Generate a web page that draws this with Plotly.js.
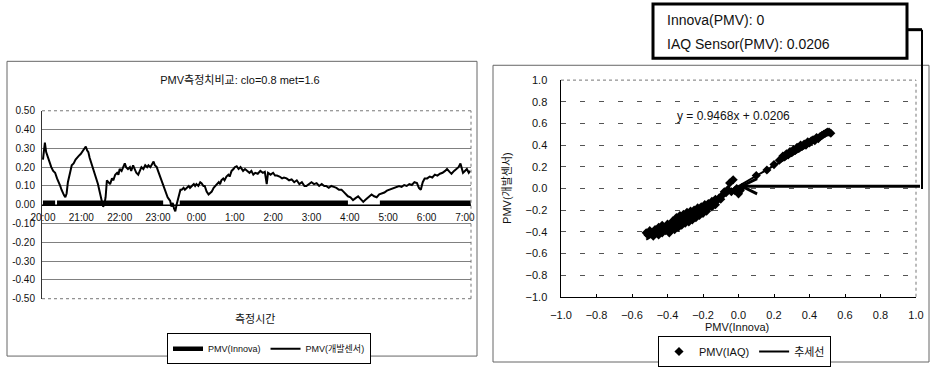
<!DOCTYPE html>
<html>
<head>
<meta charset="utf-8">
<script src="https://cdn.plot.ly/plotly-3.0.1.min.js"></script>
<style>
  html, body { margin: 0; padding: 0; background: #fff; }
  #chart { width: 933px; height: 367px; }
</style>
</head>
<body>
<div id="chart"></div>
<script>
// ---- Left panel: PMV readings over the night (minutes after 20:00) ----
const innovaMin = [0, 19, 20, 22, 188, 200, 214, 477, 500, 527, 669];
const innovaPmv = [0.01, 0.01, null, 0.01, 0.01, null, 0.01, 0.01, null, 0.01, 0.01];

const sensorMin = [
  0, 2, 3, 5, 8, 10, 13, 16, 19, 22, 25, 27, 29, 31, 33, 35, 37, 39, 41, 43,
  45, 48, 51, 53, 56, 59, 61, 64, 66, 67, 69, 71, 73, 76, 78, 81, 83, 86, 88, 90,
  92, 94, 96, 98, 100, 102, 105, 108, 110, 113, 116, 118, 120, 123, 125, 128, 130, 133, 136, 138,
  141, 143, 146, 149, 151, 154, 157, 160, 163, 165, 168, 171, 173, 175, 178, 180, 183, 185, 188, 190,
  193, 195, 197, 199, 201, 203, 205, 207, 209, 211, 213, 215, 217, 220, 222, 225, 228, 230, 233, 236,
  238, 240, 243, 246, 248, 251, 253, 256, 259, 262, 264, 267, 270, 272, 275, 277, 279, 282, 284, 287,
  290, 292, 295, 298, 300, 303, 306, 309, 313, 316, 320, 323, 326, 329, 332, 336, 340, 344, 347, 350,
  352, 356, 360, 363, 366, 370, 374, 377, 381, 385, 389, 393, 397, 401, 405, 409, 412, 416, 420, 424,
  428, 432, 436, 440, 443, 447, 451, 455, 459, 463, 467, 470, 473, 477, 481, 485, 489, 493, 497, 501,
  504, 507, 510, 514, 518, 522, 526, 530, 534, 538, 542, 546, 550, 553, 557, 561, 565, 569, 573, 577,
  581, 585, 588, 591, 594, 597, 601, 605, 609, 613, 617, 621, 625, 629, 632, 636, 639, 643, 647, 650,
  653, 655, 657, 660, 663, 666, 668
];
const sensorPmv = [
  0.24, 0.30, 0.33, 0.28, 0.25, 0.22, 0.20, 0.18, 0.17, 0.14, 0.12, 0.10, 0.08, 0.06, 0.05, 0.04, 0.06, 0.12, 0.16, 0.18,
  0.21, 0.22, 0.24, 0.25, 0.26, 0.27, 0.28, 0.29, 0.30, 0.31, 0.29, 0.28, 0.25, 0.22, 0.19, 0.16, 0.14, 0.11, 0.08, 0.05,
  0.02, -0.01, 0.00, 0.04, 0.13, 0.12, 0.11, 0.14, 0.13, 0.16, 0.17, 0.16, 0.19, 0.18, 0.20, 0.22, 0.20, 0.19, 0.20, 0.18,
  0.21, 0.19, 0.17, 0.16, 0.18, 0.20, 0.19, 0.21, 0.20, 0.21, 0.20, 0.22, 0.23, 0.21, 0.20, 0.18, 0.15, 0.13, 0.11, 0.08,
  0.06, 0.04, 0.03, 0.02, -0.01, 0.01, -0.02, -0.035, 0.00, 0.03, 0.06, 0.08, 0.08, 0.09, 0.08, 0.09, 0.10, 0.09, 0.10, 0.11,
  0.10, 0.11, 0.10, 0.12, 0.115, 0.10, 0.10, 0.07, 0.055, 0.065, 0.07, 0.09, 0.10, 0.11, 0.12, 0.11, 0.13, 0.14, 0.13, 0.15,
  0.16, 0.15, 0.18, 0.19, 0.20, 0.205, 0.19, 0.20, 0.18, 0.19, 0.18, 0.17, 0.18, 0.16, 0.17, 0.165, 0.18, 0.17, 0.175, 0.11,
  0.17, 0.16, 0.17, 0.155, 0.155, 0.15, 0.14, 0.145, 0.14, 0.13, 0.135, 0.12, 0.13, 0.11, 0.12, 0.10, 0.10, 0.11, 0.12, 0.11,
  0.115, 0.10, 0.11, 0.10, 0.10, 0.09, 0.10, 0.095, 0.09, 0.08, 0.08, 0.07, 0.06, 0.045, 0.04, 0.025, 0.035, 0.045, 0.03, 0.015,
  0.025, 0.035, 0.045, 0.055, 0.045, 0.04, 0.055, 0.06, 0.065, 0.075, 0.08, 0.085, 0.09, 0.095, 0.10, 0.095, 0.105, 0.10, 0.11, 0.105,
  0.12, 0.115, 0.09, 0.08, 0.12, 0.14, 0.14, 0.15, 0.145, 0.16, 0.155, 0.165, 0.17, 0.18, 0.19, 0.175, 0.165, 0.18, 0.19, 0.20,
  0.22, 0.19, 0.17, 0.18, 0.19, 0.17, 0.18
];

const hourTickMin = [0, 60, 120, 180, 240, 300, 360, 420, 480, 540, 600, 660];
const hourTickText = ['20:00', '21:00', '22:00', '23:00', '0:00', '1:00', '2:00', '3:00', '4:00', '5:00', '6:00', '7:00'];
const leftYTicks = [0.5, 0.4, 0.3, 0.2, 0.1, 0, -0.1, -0.2, -0.3, -0.4, -0.5];

// ---- Right panel: IAQ sensor PMV against Innova PMV ----
const iaqX = [
  -0.52, -0.51, -0.50, -0.49, -0.48, -0.47, -0.46, -0.45, -0.45, -0.44, -0.43, -0.43, -0.42, -0.41, -0.40, -0.40, -0.39, -0.38, -0.38, -0.37,
  -0.37, -0.36, -0.36, -0.35, -0.35, -0.34, -0.34, -0.33, -0.33, -0.32, -0.32, -0.31, -0.31, -0.30, -0.30, -0.29, -0.29, -0.28, -0.28, -0.27,
  -0.27, -0.26, -0.26, -0.25, -0.25, -0.24, -0.24, -0.23, -0.23, -0.22, -0.22, -0.21, -0.21, -0.20, -0.20, -0.19, -0.19, -0.18, -0.18, -0.17,
  -0.17, -0.16, -0.15, -0.15, -0.14, -0.13, -0.13, -0.12, -0.11, -0.10,
  -0.09, -0.08, -0.07, -0.06, -0.05, -0.04, -0.03, -0.02, -0.01, 0.00, 0.01, 0.02,
  0.10, 0.16, 0.20, 0.23, 0.25, 0.26, 0.27, 0.28, 0.29, 0.30, 0.31, 0.32, 0.33, 0.34, 0.35, 0.36, 0.37,
  0.38, 0.39, 0.40, 0.41, 0.42, 0.43, 0.44, 0.45, 0.46, 0.47, 0.48, 0.49, 0.50, 0.51, 0.52
];
const iaqY = [
  -0.41, -0.43, -0.39, -0.42, -0.44, -0.38, -0.41, -0.36, -0.43, -0.39, -0.34, -0.41, -0.37, -0.39, -0.33, -0.37, -0.41, -0.34, -0.38, -0.30,
  -0.34, -0.30, -0.38, -0.27, -0.33, -0.30, -0.36, -0.25, -0.31, -0.28, -0.34, -0.24, -0.30, -0.27, -0.32, -0.22, -0.28, -0.25, -0.31, -0.21,
  -0.27, -0.23, -0.29, -0.20, -0.26, -0.22, -0.27, -0.18, -0.24, -0.20, -0.25, -0.17, -0.22, -0.19, -0.23, -0.15, -0.20, -0.17, -0.21, -0.14,
  -0.18, -0.15, -0.12, -0.17, -0.13, -0.10, -0.15, -0.11, -0.09, -0.10,
  -0.06, -0.03, -0.04, -0.01, 0.05, -0.03, 0.08, -0.02, 0.00, -0.05, -0.02, 0.01,
  0.12, 0.17, 0.22, 0.26, 0.30, 0.29, 0.32, 0.31, 0.34, 0.33, 0.36, 0.35, 0.38, 0.37, 0.40, 0.39, 0.41,
  0.40, 0.43, 0.42, 0.44, 0.45, 0.44, 0.47, 0.46, 0.48, 0.49, 0.50, 0.51, 0.52, 0.52, 0.51
];
const trendSlope = 0.9468;
const trendIntercept = 0.0206;
const innovaAtArrow = 0;

// ---- helpers ----
const W = 933, H = 367;
const px = x => x / W;          // pixel column -> paper x
const py = y => 1 - y / H;      // pixel row -> paper y
const base = Date.UTC(2000, 0, 1, 20, 0, 0);
const pad = n => String(n).padStart(2, '0');
function stamp(min) {
  const t = new Date(base + Math.round(min * 60000));
  return `${t.getUTCFullYear()}-${pad(t.getUTCMonth() + 1)}-${pad(t.getUTCDate())} ` +
         `${pad(t.getUTCHours())}:${pad(t.getUTCMinutes())}:${pad(t.getUTCSeconds())}`;
}

const narrow = '"Liberation Sans Narrow", "Liberation Sans", "Noto Sans CJK KR", sans-serif';
const sans = '"Liberation Sans", "Noto Sans CJK KR", sans-serif';

const leftY = [py(302), py(112)];
const rightY = [py(300), py(81)];

const trendX = [Math.min(...iaqX), Math.max(...iaqX)];
const trendY = trendX.map(x => trendSlope * x + trendIntercept);

const traces = [
  {
    x: innovaMin.map(stamp), y: innovaPmv, name: 'PMV(Innova)',
    type: 'scatter', mode: 'lines', connectgaps: false,
    line: { color: '#000', width: 4.5 }, xaxis: 'x', yaxis: 'y', legend: 'legend',
    hoverinfo: 'skip'
  },
  {
    x: sensorMin.map(stamp), y: sensorPmv, name: 'PMV(개발센서)',
    type: 'scatter', mode: 'lines',
    line: { color: '#000', width: 2 }, xaxis: 'x', yaxis: 'y', legend: 'legend',
    hoverinfo: 'skip'
  },
  {
    x: iaqX, y: iaqY, name: 'PMV(IAQ)', type: 'scatter', mode: 'markers',
    marker: { symbol: 'diamond', size: 7, color: '#000' },
    xaxis: 'x2', yaxis: 'y2', legend: 'legend2', hoverinfo: 'skip'
  },
  {
    x: trendX, y: trendY, name: '추세선', type: 'scatter', mode: 'lines',
    line: { color: '#000', width: 2 },
    xaxis: 'x2', yaxis: 'y2', legend: 'legend2', hoverinfo: 'skip'
  }
];

const thinGray = { color: '#666', width: 1 };
const dotted = { color: '#777', width: 1, dash: 'dot' };

// text placed at a pixel spot, centred unless told otherwise
function label(text, x, y, font, extra) {
  return Object.assign({ text, xref: 'paper', yref: 'paper', x: px(x), y: py(y),
    xanchor: 'center', yanchor: 'middle', showarrow: false, font }, extra || {});
}

const layout = {
  width: W, height: H,
  margin: { l: 0, r: 0, t: 0, b: 0 },
  paper_bgcolor: '#fff', plot_bgcolor: 'rgba(0,0,0,0)',
  showlegend: true,
  title: {
    text: 'PMV측정치비교: clo=0.8 met=1.6',
    font: { family: narrow, size: 11, color: '#111' },
    xref: 'paper', yref: 'paper', x: px(240), y: py(81),
    xanchor: 'center', yanchor: 'middle'
  },
  xaxis: {
    type: 'date', domain: [px(42), px(471)],
    range: [stamp(-1.5), stamp(669.5)],
    anchor: 'free', position: (leftY[0] + leftY[1]) / 2,
    tickvals: hourTickMin.map(stamp), ticktext: hourTickText,
    showgrid: false, zeroline: false, showline: true, linecolor: '#000', linewidth: 1,
    ticks: '', ticklabelstandoff: 3,
    tickfont: { family: narrow, size: 10, color: '#111' }
  },
  yaxis: {
    domain: leftY, range: [-0.5, 0.5],
    tickvals: leftYTicks, ticktext: leftYTicks.map(v => v.toFixed(2)),
    showgrid: true, gridcolor: '#808080', gridwidth: 1,
    zeroline: false, showline: true, linecolor: '#333', linewidth: 1,
    ticks: '', ticklabelstandoff: 4,
    tickfont: { family: narrow, size: 10, color: '#111' }
  },
  xaxis2: {
    domain: [px(561), px(916)], range: [-1, 1], anchor: 'y2',
    dtick: 0.2, tick0: -1, tickformat: '.1f',
    showgrid: false, zeroline: false, showline: true, linecolor: '#000', linewidth: 1.5,
    ticks: 'inside', ticklen: 3, tickcolor: '#000', ticklabelstandoff: 8,
    tickfont: { family: sans, size: 11, color: '#111' }
  },
  yaxis2: {
    domain: rightY, range: [-1, 1], anchor: 'x2',
    dtick: 0.2, tick0: -1, tickformat: '.1f',
    showgrid: true, gridcolor: '#555', gridwidth: 1, griddash: '5px,14px',
    zeroline: false, showline: true, linecolor: '#000', linewidth: 1.5,
    ticks: '', ticklabelstandoff: 10,
    tickfont: { family: sans, size: 11, color: '#111' }
  },
  legend: {
    orientation: 'h', x: px(167), y: py(337), xanchor: 'left', yanchor: 'top',
    bgcolor: '#fff', bordercolor: '#000', borderwidth: 1,
    font: { family: narrow, size: 9, color: '#111' }, itemwidth: 30
  },
  legend2: {
    orientation: 'h', x: px(658), y: py(340), xanchor: 'left', yanchor: 'top',
    bgcolor: '#fff', bordercolor: '#000', borderwidth: 1,
    font: { family: sans, size: 11, color: '#111' }, itemwidth: 30
  },
  shapes: [
    // outer frames of the two panels
    { type: 'rect', xref: 'paper', yref: 'paper', x0: px(7), x1: px(477), y0: py(360), y1: py(62), line: thinGray },
    { type: 'rect', xref: 'paper', yref: 'paper', x0: px(493), x1: px(929), y0: py(366), y1: py(66), line: thinGray },
    // dotted plot-area borders
    { type: 'line', xref: 'paper', yref: 'paper', x0: px(42), x1: px(471), y0: leftY[1], y1: leftY[1], line: dotted },
    { type: 'line', xref: 'paper', yref: 'paper', x0: px(471), x1: px(471), y0: leftY[0], y1: leftY[1], line: dotted },
    { type: 'line', xref: 'paper', yref: 'paper', x0: px(42), x1: px(471), y0: leftY[0], y1: leftY[0], line: dotted },
    { type: 'line', xref: 'paper', yref: 'paper', x0: px(561), x1: px(916), y0: rightY[1], y1: rightY[1], line: dotted },
    { type: 'line', xref: 'paper', yref: 'paper', x0: px(916), x1: px(916), y0: rightY[0], y1: rightY[1], line: dotted },
    // callout box and its leader
    { type: 'rect', xref: 'paper', yref: 'paper', x0: px(653), x1: px(907), y0: py(59), y1: py(4),
      line: { color: '#000', width: 3 }, fillcolor: '#fff' },
    { type: 'line', xref: 'paper', yref: 'paper', x0: px(907), x1: px(922), y0: py(30), y1: py(30),
      line: { color: '#000', width: 3 } },
    { type: 'line', xref: 'paper', yref: 'paper', x0: px(922), x1: px(922), y0: py(30), y1: py(191),
      line: { color: '#000', width: 2 } }
  ],
  annotations: [
    label('측정시간', 255, 323, { family: narrow, size: 11, color: '#111' }),
    label('PMV(Innova)', 737, 331, { family: sans, size: 11, color: '#111' }),
    label('PMV(개발센서)', 507, 190, { family: sans, size: 11, color: '#111' }, { textangle: -90 }),
    label(`y = ${trendSlope}x + ${trendIntercept}`, 733, 117, { family: sans, size: 12, color: '#111' }),
    label(`Innova(PMV): ${innovaAtArrow}`, 665, 20, { family: sans, size: 14, color: '#111' }, { xanchor: 'left' }),
    label(`IAQ Sensor(PMV): ${trendIntercept}`, 665, 44, { family: sans, size: 14, color: '#111' }, { xanchor: 'left' }),
    { text: '', xref: 'x2', yref: 'y2', x: innovaAtArrow, y: trendIntercept,
      axref: 'pixel', ayref: 'pixel', ax: 183, ay: 0,
      showarrow: true, arrowhead: 5, arrowsize: 1, arrowwidth: 3, arrowcolor: '#000', standoff: 0 }
  ]
};

Plotly.newPlot('chart', traces, layout, { staticPlot: true, displayModeBar: false });
</script>
</body>
</html>
